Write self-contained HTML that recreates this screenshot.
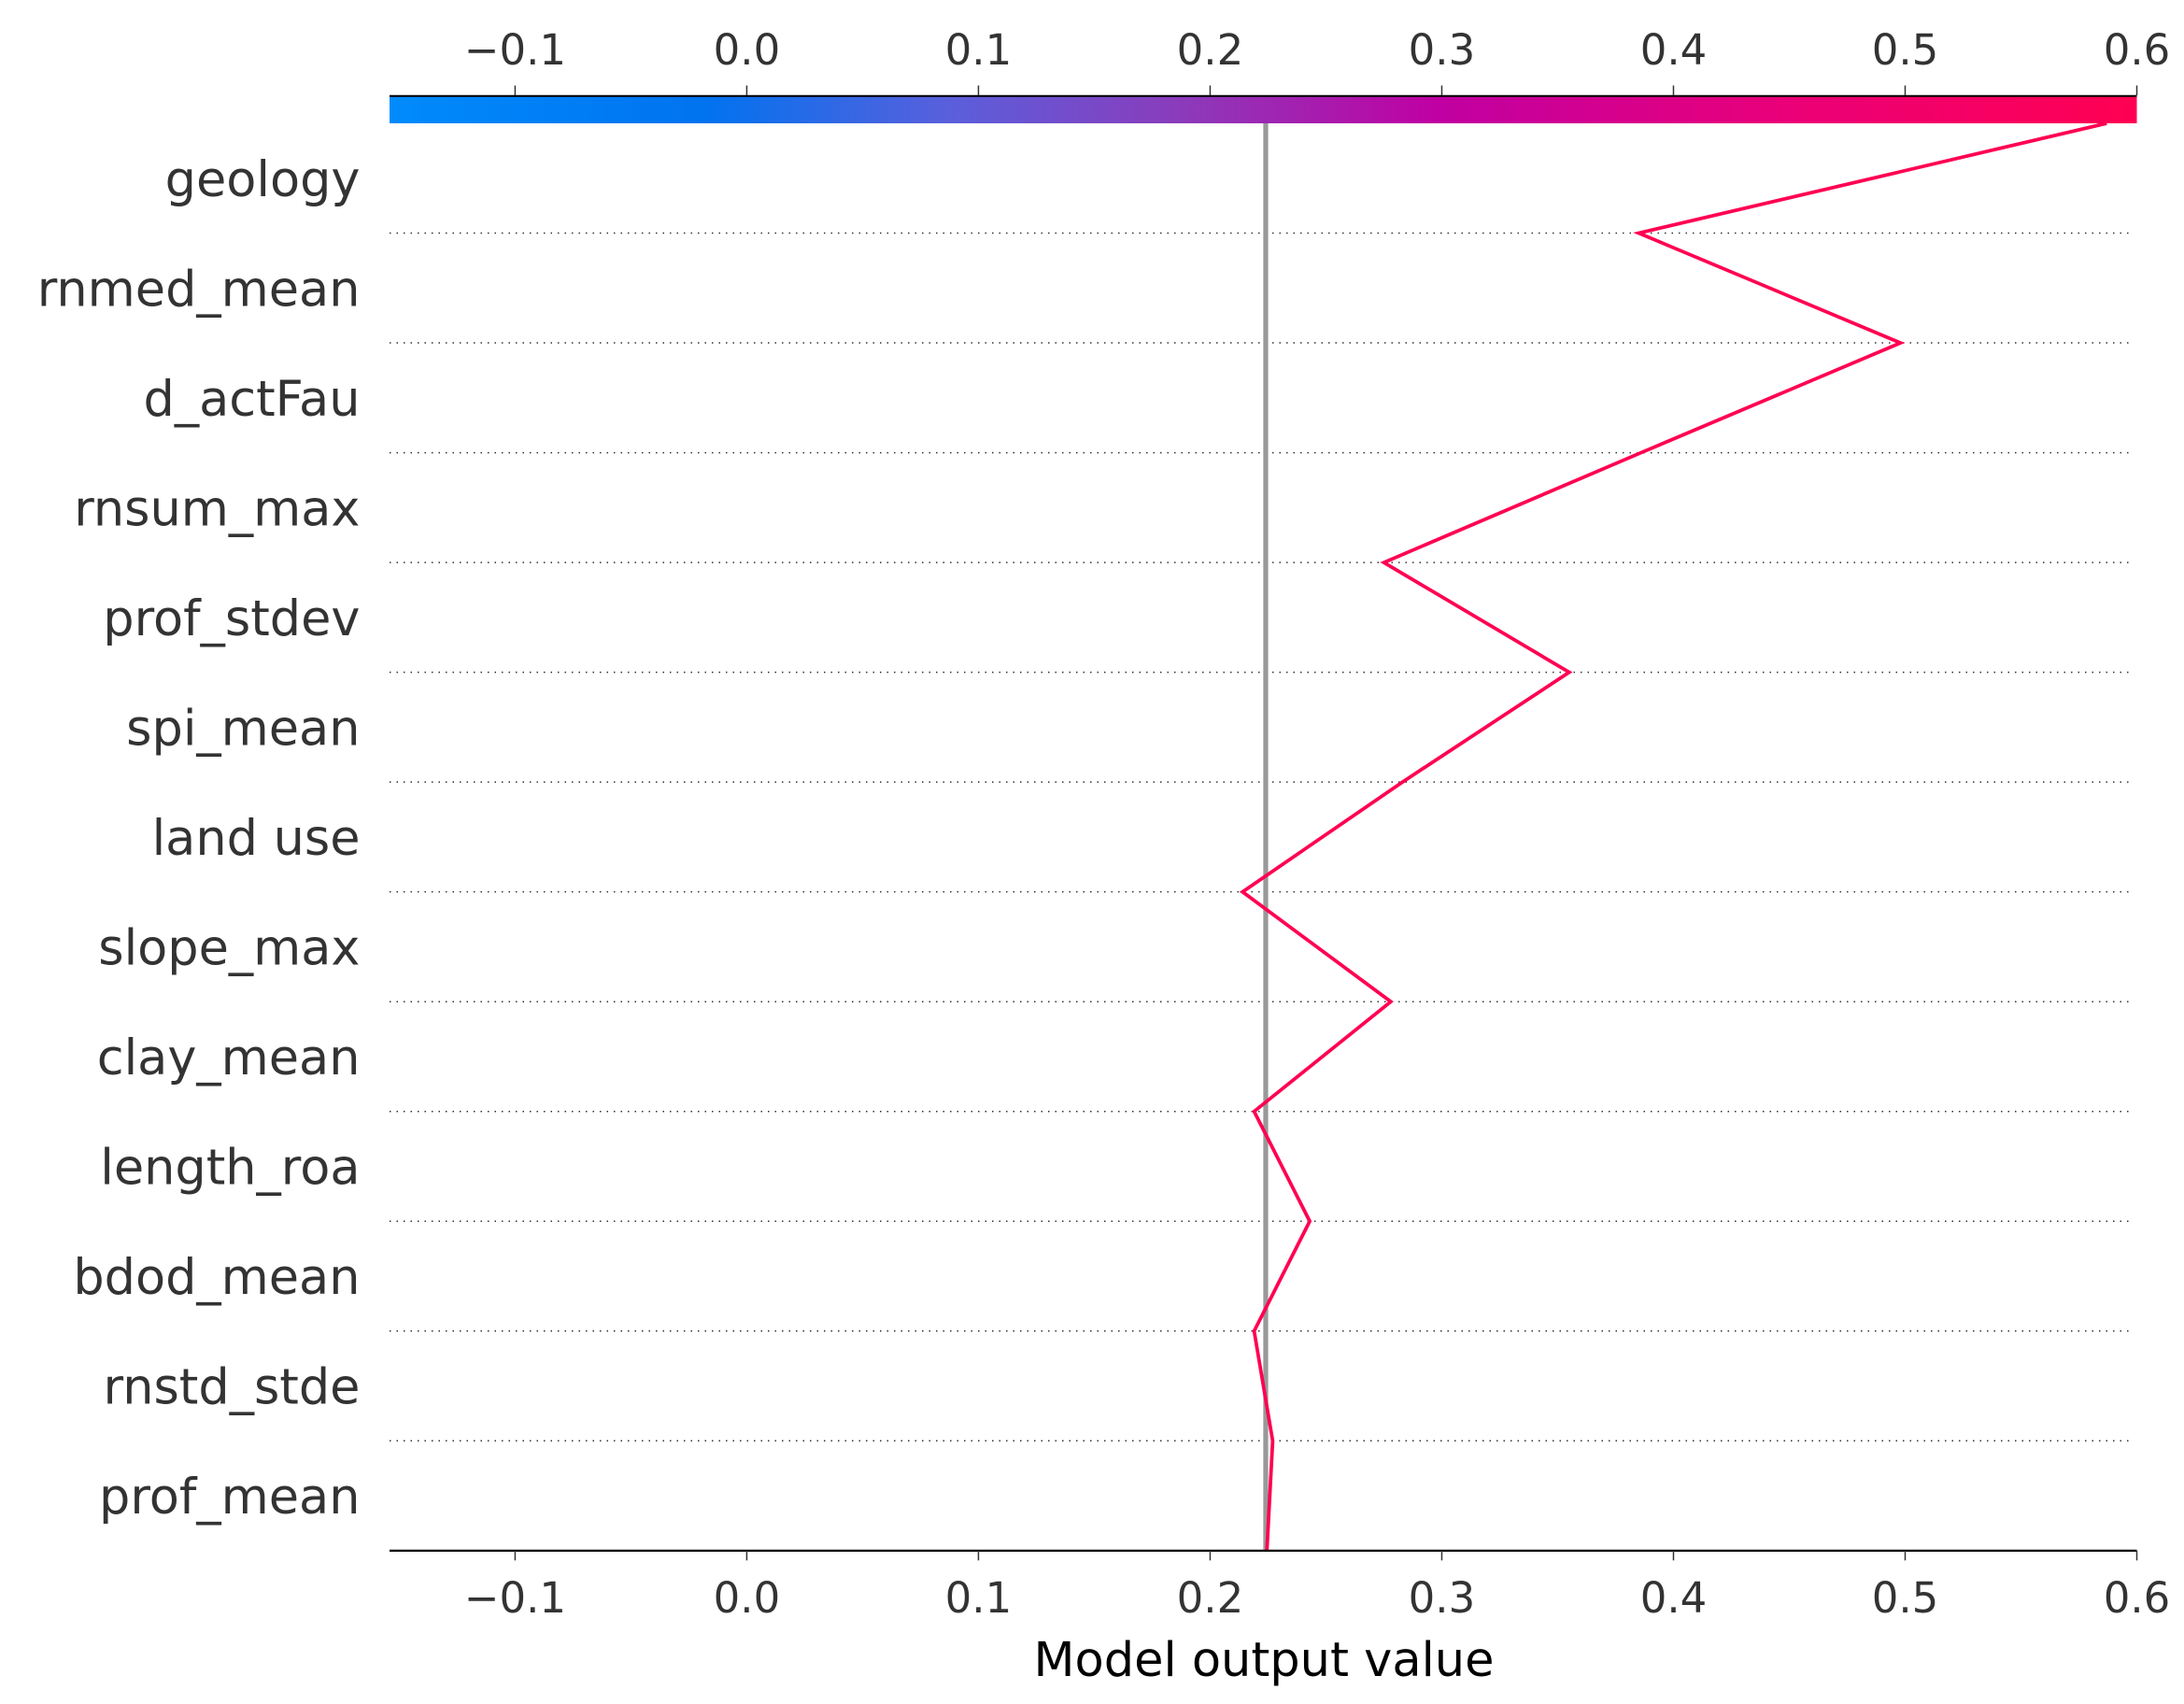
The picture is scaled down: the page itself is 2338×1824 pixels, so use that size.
<!DOCTYPE html>
<html><head><meta charset="utf-8"><style>
html,body{margin:0;padding:0;background:#fff;}
svg{display:block;}
text{font-family:"DejaVu Sans","Liberation Sans",sans-serif;}
</style></head>
<body>
<svg id="chart" width="2338" height="1824" viewBox="0 0 1558.667 1216" xmlns="http://www.w3.org/2000/svg">
<defs>
<linearGradient id="cbar" x1="0" x2="1" y1="0" y2="0">
<stop offset="0" stop-color="#008bfb"/>
<stop offset="0.18" stop-color="#0073ef"/>
<stop offset="0.32" stop-color="#5a5fdc"/>
<stop offset="0.45" stop-color="#8a3cbb"/>
<stop offset="0.6" stop-color="#c000a2"/>
<stop offset="0.8" stop-color="#ea0078"/>
<stop offset="1" stop-color="#ff0052"/>
</linearGradient>
</defs>
<g id="g"></g>
</svg>
<script>
const features = ["geology","rnmed_mean","d_actFau","rnsum_max","prof_stdev","spi_mean","land use","slope_max","clay_mean","length_roa","bdod_mean","rnstd_stde","prof_mean"];
// path values from top (after all features) down to base value at bottom
const pathValues = [0.587,0.385,0.498,0.386,0.275,0.355,0.283,0.214,0.278,0.219,0.243,0.219,0.227,0.2245];
const baseValue = 0.224;
const tickValues = [-0.1,0.0,0.1,0.2,0.3,0.4,0.5,0.6];
const tickLabels = ["\u22120.1","0.0","0.1","0.2","0.3","0.4","0.5","0.6"];

const NS="http://www.w3.org/2000/svg";
const g=document.getElementById('g');
const xMin=-0.1542, xMax=0.6, left=278, right=1525;
function xs(v){return left+(v-xMin)/(xMax-xMin)*(right-left);}
const top0=88, rowH=78.35;
function ys(i){return top0+i*rowH;}
const bottom=ys(features.length);
function el(t,a,p){const e=document.createElementNS(NS,t);for(const k in a)e.setAttribute(k,a[k]);(p||g).appendChild(e);return e;}

let cb=el('rect',{x:left,y:68,width:right-left,height:20,fill:'url(#cbar)'});


let ta=el('line',{x1:left,x2:right,y1:68.5,y2:68.5,stroke:'#000','stroke-width':1.3});



for(let i=1;i<features.length;i++){
  const l=el('line',{x1:left,x2:1522,y1:ys(i),y2:ys(i),stroke:'#333','stroke-width':1,'stroke-dasharray':'1,4'});
  
  
}
features.forEach((f,i)=>{
  const t=el('text',{x:257,y:(ys(i)+ys(i+1))/2+3,'text-anchor':'end','dominant-baseline':'middle','font-size':35,fill:'#333'});
  t.textContent=f;
  
  
});
const bl=el('line',{x1:xs(baseValue),x2:xs(baseValue),y1:top0,y2:bottom,stroke:'#999','stroke-width':3.5});


const pts=pathValues.map((v,i)=>xs(v).toFixed(2)+','+ys(i).toFixed(2)).join(' ');
const pl=el('polyline',{points:pts,fill:'none',stroke:'#ff0052','stroke-width':2.5,'stroke-linejoin':'miter'});


const axY=bottom;
const ba=el('line',{x1:left,x2:right,y1:axY,y2:axY,stroke:'#000','stroke-width':1.5});


tickValues.forEach((v,i)=>{
  const x=xs(v);
  const t1=el('line',{x1:x,x2:x,y1:axY,y2:axY+7,stroke:'#333','stroke-width':1});
  
  
  const l1=el('text',{x:x,y:axY+44,'text-anchor':'middle','font-size':30,fill:'#333'});
  l1.textContent=tickLabels[i];
  
  
  const t2=el('line',{x1:x,x2:x,y1:61,y2:68,stroke:'#333','stroke-width':1});
  
  
  const l2=el('text',{x:x,y:46,'text-anchor':'middle','font-size':30,fill:'#333'});
  l2.textContent=tickLabels[i];
  
  
});
const xl=el('text',{x:902,y:1196,'text-anchor':'middle','font-size':34,fill:'#000'});
xl.textContent='Model output value';


</script>
</body></html>
